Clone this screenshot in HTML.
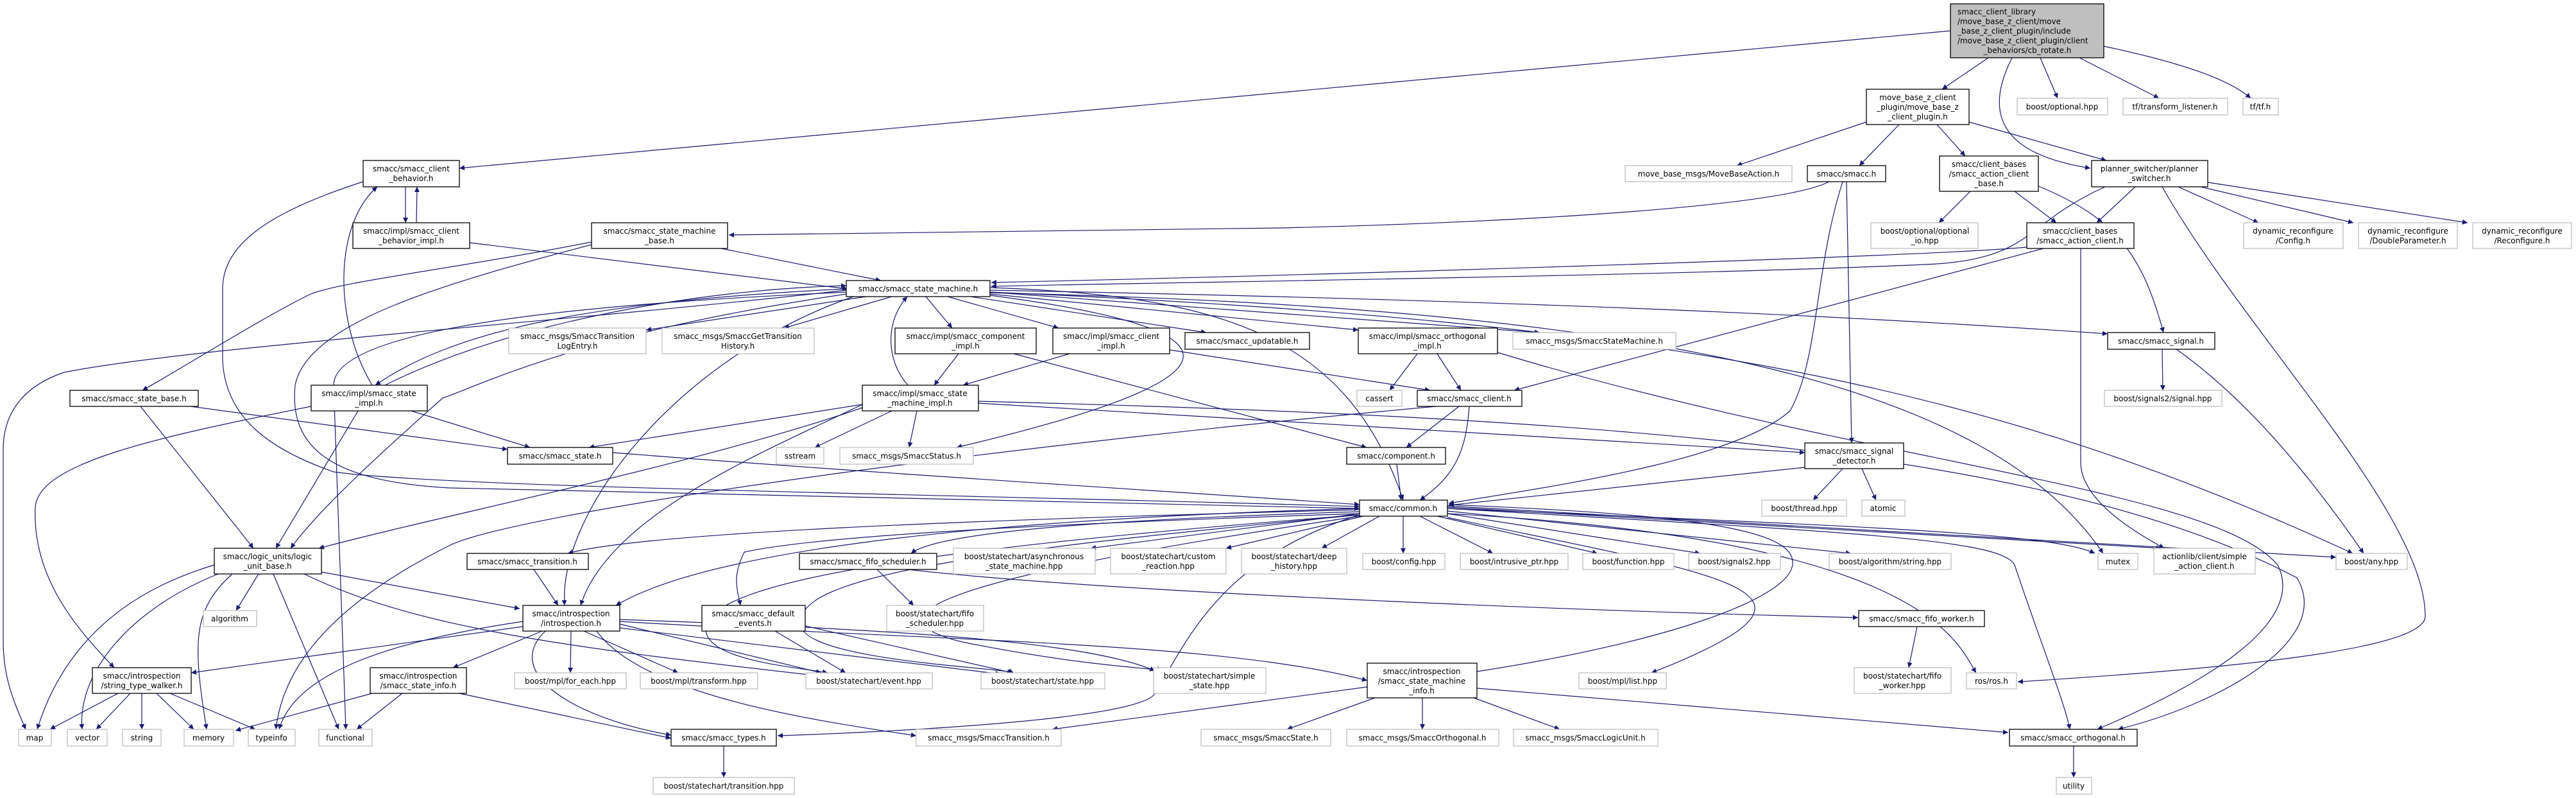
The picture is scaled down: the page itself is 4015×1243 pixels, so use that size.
<!DOCTYPE html>
<html><head><meta charset="utf-8"><style>
html,body{margin:0;padding:0;background:#fff;}
svg{display:block;}
.b rect{fill:#fff;stroke:#000;stroke-width:1.3}
.g rect{fill:#fff;stroke:#bfbfbf;stroke-width:1.3}
text{font-family:"DejaVu Sans","Liberation Sans",sans-serif;font-size:12px;fill:#000;text-anchor:middle}
.e{fill:none;stroke:#191970;stroke-width:1.2}
</style></head><body>
<svg width="4015" height="1243" viewBox="0 0 4015 1243" xmlns="http://www.w3.org/2000/svg">
<defs><marker id="a" viewBox="0 0 10 10" refX="10" refY="5" markerWidth="12" markerHeight="8" orient="auto" markerUnits="userSpaceOnUse"><path d="M0,0L10,5L0,10z" fill="#191970"/></marker></defs>
<g class="e" marker-end="url(#a)">
<path d="M3040 48 L716 262"/>
<path d="M3099 90 L3027 139"/>
<path d="M3136 90 C3080 200 3150 245 3258 262"/>
<path d="M3180 90 L3207 153"/>
<path d="M3241 90 L3365 153"/>
<path d="M3279 72 Q3460 110 3508 153"/>
<path d="M2909 190 L2707 258"/>
<path d="M2960 194 L2898 258"/>
<path d="M3019 194 L3063 243"/>
<path d="M3069 190 L3283 250"/>
<path d="M2851 283 C2780 320 2400 345 2000 355 L1136 366"/>
<path d="M2872 283 C2828 420 2835 560 2790 640 C2700 720 2400 760 2258 784"/>
<path d="M2878 283 L2886 690"/>
<path d="M3071 298 L3022 347"/>
<path d="M3140 298 L3205 347"/>
<path d="M3177 290 C3300 340 3340 400 3372 518"/>
<path d="M3328 291 L3268 347"/>
<path d="M3281 291 C3150 350 3170 405 3000 412 C2600 430 1800 440 1545 446"/>
<path d="M3395 291 L3520 347"/>
<path d="M3430 291 L3668 347"/>
<path d="M3441 284 L3846 347"/>
<path d="M3370 291 C3500 520 3780 800 3780 960 C3780 1010 3500 1040 3145 1062"/>
<path d="M3370 544 L3371 608"/>
<path d="M3392 544 C3500 620 3600 740 3684 862"/>
<path d="M1543 455 C2600 500 3100 600 3667 862"/>
<path d="M3243 387 L3243 720 C3243 780 3330 830 3373 854"/>
<path d="M3185 387 L2360 608"/>
<path d="M3159 385 C3000 400 2000 430 1545 440"/>
<path d="M632 291 L632 347"/>
<path d="M649 347 L650 291"/>
<path d="M566 283 C420 330 347 380 347 450 L347 560 C350 650 420 700 520 735 C700 760 1500 770 2119 789"/>
<path d="M732 378 L1321 450"/>
<path d="M1124 387 L1373 437"/>
<path d="M922 377 C700 420 520 440 480 460 C400 500 290 570 222 608"/>
<path d="M922 381 C700 440 480 500 460 600 C450 700 520 750 700 760 L2119 792"/>
<path d="M1350 462 L1007 514"/>
<path d="M1390 462 L1222 511"/>
<path d="M1443 462 L1484 511"/>
<path d="M1477 462 L1650 511"/>
<path d="M1513 462 L1880 518"/>
<path d="M1543 458 L2117 514"/>
<path d="M1543 455 L2400 518"/>
<path d="M1543 452 C2500 470 3000 500 3285 520"/>
<path d="M297 633 L791 700"/>
<path d="M641 640 L826 697"/>
<path d="M1344 630 L918 697"/>
<path d="M1415 600 C1380 560 1380 500 1414 462"/>
<path d="M1319 450 C900 470 700 520 585 600"/>
<path d="M600 600 C800 500 1100 450 1319 445"/>
<path d="M219 633 L395 854"/>
<path d="M558 640 L430 854"/>
<path d="M1319 458 C900 520 750 600 690 620 C600 700 500 790 453 854"/>
<path d="M1344 635 C1100 720 700 800 497 854"/>
<path d="M1319 452 C900 500 300 540 100 580 C40 600 5 640 5 700 L5 1000 C5 1060 25 1100 40 1136"/>
<path d="M1319 455 C1000 470 520 500 520 600 L539 1136"/>
<path d="M1543 448 C1900 460 2100 520 2187 779"/>
<path d="M1330 462 C1050 560 870 800 880 943"/>
<path d="M1390 640 L1270 697"/>
<path d="M1429 640 L1417 697"/>
<path d="M1525 628 L2813 705"/>
<path d="M1344 630 C1200 700 950 800 905 943"/>
<path d="M1494 551 L1456 600"/>
<path d="M1580 551 L2130 697"/>
<path d="M1667 551 L1501 600"/>
<path d="M1823 545 L2229 608"/>
<path d="M2209 551 L2166 608"/>
<path d="M2240 551 L2277 608"/>
<path d="M2274 633 L2192 697"/>
<path d="M2290 633 C2285 700 2270 740 2213 779"/>
<path d="M2238 633 C1500 700 800 800 700 850 C500 950 440 1050 430 1136"/>
<path d="M2177 723 L2184 779"/>
<path d="M2813 728 L2258 787"/>
<path d="M2872 730 L2826 779"/>
<path d="M2902 730 L2924 779"/>
<path d="M2119 794 C1500 810 1000 830 885 862"/>
<path d="M2119 797 C1700 810 1460 830 1420 862"/>
<path d="M2119 800 L1700 854"/>
<path d="M2125 804 L1911 854"/>
<path d="M2150 804 L2060 854"/>
<path d="M2187 804 L2187 862"/>
<path d="M2213 804 L2327 862"/>
<path d="M2240 804 L2490 862"/>
<path d="M2256 800 L2650 862"/>
<path d="M2256 796 L2885 862"/>
<path d="M2256 792 C2900 820 3200 830 3265 862"/>
<path d="M2256 790 L3369 854"/>
<path d="M2256 788 L3641 868"/>
<path d="M2256 800 C3000 840 3050 1000 3080 1048"/>
<path d="M2119 800 C1500 820 1250 840 1160 860 C1140 900 1150 920 1154 943"/>
<path d="M2119 792 C1500 810 1100 860 960 943"/>
<path d="M2119 802 C1500 850 1100 900 1100 980 C1100 1030 1250 1040 1290 1048"/>
<path d="M2119 802 C1500 860 1220 900 1250 980 C1280 1030 1560 1040 1580 1048"/>
<path d="M2120 804 C1600 880 1300 950 1500 1000 C1700 1040 1800 1040 1810 1045"/>
<path d="M2119 802 C1900 870 1850 1000 1800 1080 C1780 1120 1400 1140 1212 1146"/>
<path d="M2302 1046 C2600 1000 2800 930 2794 874 C2790 820 2600 800 2258 786"/>
<path d="M1415 887 C1700 920 2400 950 2896 962"/>
<path d="M2256 806 C2700 900 2900 920 2574 1048"/>
<path d="M1367 887 L1424 943"/>
<path d="M2988 976 L2975 1040"/>
<path d="M334 880 C200 920 100 1000 58 1136"/>
<path d="M340 894 C200 950 120 1050 128 1136"/>
<path d="M362 894 C300 950 300 1000 322 1136"/>
<path d="M403 894 L368 951"/>
<path d="M426 894 L528 1136"/>
<path d="M501 891 L810 948"/>
<path d="M474 894 C650 980 900 1010 1270 1052"/>
<path d="M832 887 L870 943"/>
<path d="M815 976 L298 1048"/>
<path d="M845 983 L706 1040"/>
<path d="M890 983 L889 1048"/>
<path d="M910 983 L1057 1048"/>
<path d="M966 972 L1280 1048"/>
<path d="M966 978 L1560 1050"/>
<path d="M966 965 C1400 980 1700 1000 1800 1045"/>
<path d="M850 983 C780 1050 900 1120 1046 1145"/>
<path d="M930 983 C1000 1080 1250 1120 1428 1146"/>
<path d="M815 968 C600 1000 460 1050 435 1136"/>
<path d="M580 1080 L367 1138"/>
<path d="M627 1080 L556 1136"/>
<path d="M716 1080 C900 1120 1000 1140 1046 1150"/>
<path d="M966 968 C1500 1000 1900 1000 2131 1060"/>
<path d="M1208 983 L1318 1048"/>
<path d="M1255 975 L1578 1048"/>
<path d="M184 1080 L78 1136"/>
<path d="M203 1080 L150 1136"/>
<path d="M221 1080 L221 1136"/>
<path d="M244 1080 L302 1136"/>
<path d="M265 1080 L398 1136"/>
<path d="M1128 1162 L1128 1211"/>
<path d="M2143 1087 L2006 1136"/>
<path d="M2217 1087 L2217 1136"/>
<path d="M2297 1087 L2431 1136"/>
<path d="M2302 1072 L3130 1141"/>
<path d="M2131 1070 L1640 1136"/>
<path d="M3232 1162 L3232 1211"/>
<path d="M2256 792 C2900 830 3120 840 3140 880 C3180 1000 3220 1100 3226 1136"/>
<path d="M2334 549 C2900 720 3450 760 3550 880 C3600 980 3400 1080 3269 1136"/>
<path d="M1525 625 C2500 650 3200 700 3580 900 C3640 1000 3450 1100 3301 1136"/>
<path d="M580 600 C520 500 520 350 588 291"/>
<path d="M485 633 C250 680 60 720 55 790 C50 900 120 980 178 1040"/>
<path d="M1543 460 C2000 520 1900 600 1491 697"/>
<path d="M1543 456 C2600 480 3100 600 3278 862"/>
<path d="M955 705 C1400 740 1900 770 2119 786"/>
</g>

<g>
<rect x="3040" y="6" width="239" height="84" fill="#bfbfbf" stroke="#000" stroke-width="1.3"/>
<text x="3051" y="22.5" style="text-anchor:start">smacc_client_library</text>
<text x="3051" y="37.5" style="text-anchor:start">/move_base_z_client/move</text>
<text x="3051" y="52.5" style="text-anchor:start">_base_z_client_plugin/include</text>
<text x="3051" y="67.5" style="text-anchor:start">/move_base_z_client_plugin/client</text>
<text x="3160" y="82.5">_behaviors/cb_rotate.h</text>
</g>

<g class="b"><rect x="2909" y="139" width="160" height="55"/><text x="2989" y="156">move_base_z_client<tspan x="2989" dy="15">_plugin/move_base_z</tspan><tspan x="2989" dy="15">_client_plugin.h</tspan></text></g>
<g class="g"><rect x="3144" y="153" width="141" height="26"/><text x="3214" y="170.5">boost/optional.hpp</text></g>
<g class="g"><rect x="3309" y="153" width="163" height="26"/><text x="3390" y="170.5">tf/transform_listener.h</text></g>
<g class="g"><rect x="3496" y="153" width="55" height="26"/><text x="3523" y="170.5">tf/tf.h</text></g>
<g class="b"><rect x="566" y="250" width="150" height="41"/><text x="641" y="267">smacc/smacc_client<tspan x="641" dy="15">_behavior.h</tspan></text></g>
<g class="g"><rect x="2533" y="258" width="260" height="25"/><text x="2663" y="275">move_base_msgs/MoveBaseAction.h</text></g>
<g class="b"><rect x="2817" y="258" width="122" height="25"/><text x="2878" y="275">smacc/smacc.h</text></g>
<g class="b"><rect x="3023" y="243" width="154" height="55"/><text x="3100" y="260">smacc/client_bases<tspan x="3100" dy="15">/smacc_action_client</tspan><tspan x="3100" dy="15">_base.h</tspan></text></g>
<g class="b"><rect x="3260" y="250" width="181" height="41"/><text x="3350" y="267">planner_switcher/planner<tspan x="3350" dy="15">_switcher.h</tspan></text></g>
<g class="b"><rect x="550" y="347" width="182" height="40"/><text x="641" y="364">smacc/impl/smacc_client<tspan x="641" dy="15">_behavior_impl.h</tspan></text></g>
<g class="b"><rect x="922" y="347" width="212" height="40"/><text x="1028" y="364">smacc/smacc_state_machine<tspan x="1028" dy="15">_base.h</tspan></text></g>
<g class="g"><rect x="2916" y="347" width="167" height="40"/><text x="3000" y="364">boost/optional/optional<tspan x="3000" dy="15">_io.hpp</tspan></text></g>
<g class="b"><rect x="3159" y="347" width="167" height="40"/><text x="3242" y="364">smacc/client_bases<tspan x="3242" dy="15">/smacc_action_client.h</tspan></text></g>
<g class="g"><rect x="3497" y="347" width="155" height="40"/><text x="3574" y="364">dynamic_reconfigure<tspan x="3574" dy="15">/Config.h</tspan></text></g>
<g class="g"><rect x="3676" y="347" width="154" height="40"/><text x="3753" y="364">dynamic_reconfigure<tspan x="3753" dy="15">/DoubleParameter.h</tspan></text></g>
<g class="g"><rect x="3854" y="347" width="154" height="40"/><text x="3931" y="364">dynamic_reconfigure<tspan x="3931" dy="15">/Reconfigure.h</tspan></text></g>
<g class="b"><rect x="1319" y="437" width="224" height="25"/><text x="1431" y="454">smacc/smacc_state_machine.h</text></g>
<g class="g"><rect x="793" y="511" width="214" height="40"/><text x="900" y="528">smacc_msgs/SmaccTransition<tspan x="900" dy="15">LogEntry.h</tspan></text></g>
<g class="g"><rect x="1032" y="511" width="237" height="40"/><text x="1150" y="528">smacc_msgs/SmaccGetTransition<tspan x="1150" dy="15">History.h</tspan></text></g>
<g class="b"><rect x="1395" y="511" width="220" height="40"/><text x="1505" y="528">smacc/impl/smacc_component<tspan x="1505" dy="15">_impl.h</tspan></text></g>
<g class="b"><rect x="1641" y="511" width="182" height="40"/><text x="1732" y="528">smacc/impl/smacc_client<tspan x="1732" dy="15">_impl.h</tspan></text></g>
<g class="b"><rect x="1847" y="518" width="194" height="26"/><text x="1944" y="535.5">smacc/smacc_updatable.h</text></g>
<g class="b"><rect x="2117" y="511" width="217" height="40"/><text x="2225" y="528">smacc/impl/smacc_orthogonal<tspan x="2225" dy="15">_impl.h</tspan></text></g>
<g class="g"><rect x="2358" y="518" width="254" height="26"/><text x="2485" y="535.5">smacc_msgs/SmaccStateMachine.h</text></g>
<g class="b"><rect x="3285" y="518" width="167" height="26"/><text x="3368" y="535.5">smacc/smacc_signal.h</text></g>
<g class="b"><rect x="109" y="608" width="200" height="25"/><text x="209" y="625">smacc/smacc_state_base.h</text></g>
<g class="b"><rect x="485" y="600" width="181" height="40"/><text x="575" y="617">smacc/impl/smacc_state<tspan x="575" dy="15">_impl.h</tspan></text></g>
<g class="b"><rect x="1344" y="600" width="181" height="40"/><text x="1434" y="617">smacc/impl/smacc_state<tspan x="1434" dy="15">_machine_impl.h</tspan></text></g>
<g class="g"><rect x="2115" y="608" width="70" height="25"/><text x="2150" y="625">cassert</text></g>
<g class="b"><rect x="2209" y="608" width="163" height="25"/><text x="2290" y="625">smacc/smacc_client.h</text></g>
<g class="g"><rect x="3280" y="608" width="183" height="25"/><text x="3371" y="625">boost/signals2/signal.hpp</text></g>
<g class="b"><rect x="791" y="697" width="164" height="26"/><text x="873" y="714.5">smacc/smacc_state.h</text></g>
<g class="g"><rect x="1210" y="697" width="74" height="26"/><text x="1247" y="714.5">sstream</text></g>
<g class="g"><rect x="1309" y="697" width="208" height="26"/><text x="1413" y="714.5">smacc_msgs/SmaccStatus.h</text></g>
<g class="b"><rect x="2099" y="697" width="154" height="26"/><text x="2176" y="714.5">smacc/component.h</text></g>
<g class="b"><rect x="2813" y="690" width="154" height="40"/><text x="2890" y="707">smacc/smacc_signal<tspan x="2890" dy="15">_detector.h</tspan></text></g>
<g class="b"><rect x="2119" y="779" width="137" height="25"/><text x="2187" y="796">smacc/common.h</text></g>
<g class="g"><rect x="2746" y="779" width="132" height="25"/><text x="2812" y="796">boost/thread.hpp</text></g>
<g class="g"><rect x="2902" y="779" width="67" height="25"/><text x="2935" y="796">atomic</text></g>
<g class="b"><rect x="334" y="854" width="167" height="40"/><text x="417" y="871">smacc/logic_units/logic<tspan x="417" dy="15">_unit_base.h</tspan></text></g>
<g class="b"><rect x="728" y="862" width="189" height="25"/><text x="822" y="879">smacc/smacc_transition.h</text></g>
<g class="b"><rect x="1246" y="862" width="214" height="25"/><text x="1353" y="879">smacc/smacc_fifo_scheduler.h</text></g>
<g class="g"><rect x="1486" y="854" width="221" height="40"/><text x="1596" y="871">boost/statechart/asynchronous<tspan x="1596" dy="15">_state_machine.hpp</tspan></text></g>
<g class="g"><rect x="1731" y="854" width="180" height="40"/><text x="1821" y="871">boost/statechart/custom<tspan x="1821" dy="15">_reaction.hpp</tspan></text></g>
<g class="g"><rect x="1935" y="854" width="164" height="40"/><text x="2017" y="871">boost/statechart/deep<tspan x="2017" dy="15">_history.hpp</tspan></text></g>
<g class="g"><rect x="2124" y="862" width="128" height="25"/><text x="2188" y="879">boost/config.hpp</text></g>
<g class="g"><rect x="2276" y="862" width="168" height="25"/><text x="2360" y="879">boost/intrusive_ptr.hpp</text></g>
<g class="g"><rect x="2467" y="862" width="142" height="25"/><text x="2538" y="879">boost/function.hpp</text></g>
<g class="g"><rect x="2632" y="862" width="143" height="25"/><text x="2703" y="879">boost/signals2.hpp</text></g>
<g class="g"><rect x="2851" y="862" width="190" height="25"/><text x="2946" y="879">boost/algorithm/string.hpp</text></g>
<g class="g"><rect x="3270" y="862" width="62" height="25"/><text x="3301" y="879">mutex</text></g>
<g class="g"><rect x="3357" y="854" width="158" height="40"/><text x="3436" y="871">actionlib/client/simple<tspan x="3436" dy="15">_action_client.h</tspan></text></g>
<g class="g"><rect x="3641" y="862" width="111" height="25"/><text x="3696" y="879">boost/any.hpp</text></g>
<g class="g"><rect x="317" y="951" width="83" height="25"/><text x="358" y="968">algorithm</text></g>
<g class="b"><rect x="815" y="943" width="151" height="40"/><text x="890" y="960">smacc/introspection<tspan x="890" dy="15">/introspection.h</tspan></text></g>
<g class="b"><rect x="1094" y="943" width="161" height="40"/><text x="1174" y="960">smacc/smacc_default<tspan x="1174" dy="15">_events.h</tspan></text></g>
<g class="g"><rect x="1382" y="943" width="151" height="40"/><text x="1457" y="960">boost/statechart/fifo<tspan x="1457" dy="15">_scheduler.hpp</tspan></text></g>
<g class="b"><rect x="2897" y="951" width="196" height="25"/><text x="2995" y="968">smacc/smacc_fifo_worker.h</text></g>
<g class="b"><rect x="144" y="1040" width="154" height="40"/><text x="221" y="1057">smacc/introspection<tspan x="221" dy="15">/string_type_walker.h</tspan></text></g>
<g class="b"><rect x="577" y="1040" width="150" height="40"/><text x="652" y="1057">smacc/introspection<tspan x="652" dy="15">/smacc_state_info.h</tspan></text></g>
<g class="g"><rect x="802" y="1048" width="174" height="25"/><text x="889" y="1065">boost/mpl/for_each.hpp</text></g>
<g class="g"><rect x="998" y="1048" width="183" height="25"/><text x="1089" y="1065">boost/mpl/transform.hpp</text></g>
<g class="g"><rect x="1256" y="1048" width="197" height="25"/><text x="1354" y="1065">boost/statechart/event.hpp</text></g>
<g class="g"><rect x="1529" y="1048" width="193" height="25"/><text x="1625" y="1065">boost/statechart/state.hpp</text></g>
<g class="g"><rect x="1798" y="1040" width="175" height="40"/><text x="1885" y="1057">boost/statechart/simple<tspan x="1885" dy="15">_state.hpp</tspan></text></g>
<g class="b"><rect x="2131" y="1033" width="171" height="54"/><text x="2216" y="1050">smacc/introspection<tspan x="2216" dy="15">/smacc_state_machine</tspan><tspan x="2216" dy="15">_info.h</tspan></text></g>
<g class="g"><rect x="2461" y="1048" width="136" height="25"/><text x="2529" y="1065">boost/mpl/list.hpp</text></g>
<g class="g"><rect x="2890" y="1040" width="151" height="40"/><text x="2965" y="1057">boost/statechart/fifo<tspan x="2965" dy="15">_worker.hpp</tspan></text></g>
<g class="g"><rect x="3065" y="1048" width="78" height="25"/><text x="3104" y="1065">ros/ros.h</text></g>
<g class="g"><rect x="29" y="1136" width="51" height="26"/><text x="54" y="1153.5">map</text></g>
<g class="g"><rect x="105" y="1136" width="62" height="26"/><text x="136" y="1153.5">vector</text></g>
<g class="g"><rect x="191" y="1136" width="60" height="26"/><text x="221" y="1153.5">string</text></g>
<g class="g"><rect x="287" y="1136" width="77" height="26"/><text x="325" y="1153.5">memory</text></g>
<g class="g"><rect x="387" y="1136" width="73" height="26"/><text x="423" y="1153.5">typeinfo</text></g>
<g class="g"><rect x="497" y="1136" width="83" height="26"/><text x="538" y="1153.5">functional</text></g>
<g class="b"><rect x="1046" y="1136" width="164" height="26"/><text x="1128" y="1153.5">smacc/smacc_types.h</text></g>
<g class="g"><rect x="1428" y="1136" width="226" height="26"/><text x="1541" y="1153.5">smacc_msgs/SmaccTransition.h</text></g>
<g class="g"><rect x="1872" y="1136" width="202" height="26"/><text x="1973" y="1153.5">smacc_msgs/SmaccState.h</text></g>
<g class="g"><rect x="2099" y="1136" width="237" height="26"/><text x="2217" y="1153.5">smacc_msgs/SmaccOrthogonal.h</text></g>
<g class="g"><rect x="2359" y="1136" width="225" height="26"/><text x="2471" y="1153.5">smacc_msgs/SmaccLogicUnit.h</text></g>
<g class="b"><rect x="3132" y="1136" width="199" height="26"/><text x="3231" y="1153.5">smacc/smacc_orthogonal.h</text></g>
<g class="g"><rect x="1018" y="1211" width="220" height="26"/><text x="1128" y="1228.5">boost/statechart/transition.hpp</text></g>
<g class="g"><rect x="3205" y="1211" width="55" height="26"/><text x="3232" y="1228.5">utility</text></g>
</svg>
</body></html>
